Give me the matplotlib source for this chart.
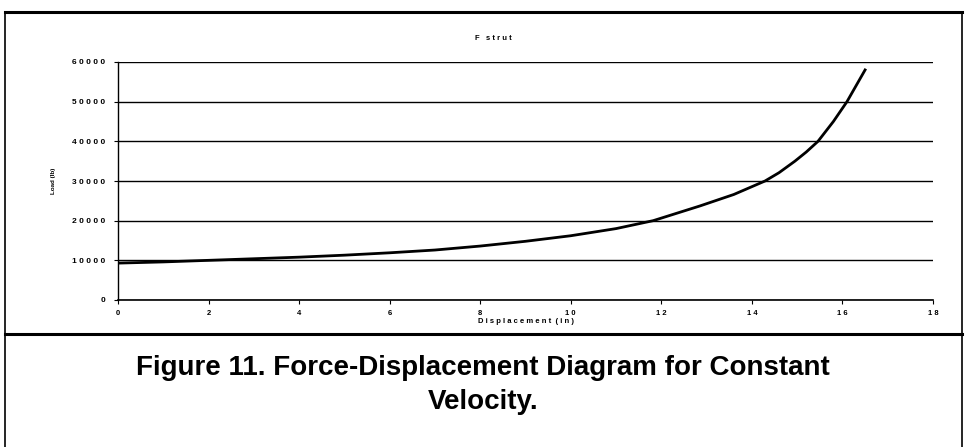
import matplotlib
matplotlib.use('Agg')
from matplotlib import pyplot as plt
from matplotlib.lines import Line2D

# data
displacement = [0, 1, 2, 3, 4, 5, 6, 7, 8, 9, 10, 11, 11.82, 12.85, 13.6,
                14.29, 14.6, 14.95, 15.2, 15.46, 15.8, 16.1, 16.3, 16.5]
load = [9300, 9600, 10000, 10400, 10800, 11300, 11900, 12600, 13600, 14800,
        16200, 18000, 20000, 23700, 26600, 30000, 32100, 35000, 37300, 40000,
        45000, 50000, 54000, 58000]

x_ticks = [0, 2, 4, 6, 8, 10, 12, 14, 16, 18]
y_ticks = [0, 10000, 20000, 30000, 40000, 50000, 60000]


def spaced(s):
    return ' '.join(s)


plt.rcParams['font.family'] = ['Liberation Sans', 'DejaVu Sans']

W, H = 965, 447
fig = plt.figure(figsize=(W / 100, H / 100), dpi=100)


def fline(x0, x1, y0, y1, lw):
    fig.add_artist(Line2D([x0 / W, x1 / W], [1 - y0 / H, 1 - y1 / H],
                          color='black', lw=lw, transform=fig.transFigure))


# outer frame + separator line
fline(5, 5, 12, 447, 1.2)
fline(962, 962, 12, 447, 1.2)
fline(5, 962, 12, 12, 2.2)
fline(5, 962, 334, 334, 2.2)

ax = fig.add_axes([118 / W, 1 - 300 / H, (933 - 118) / W, (300 - 62) / H])

ax.plot(displacement, load, color='black', lw=2)

ax.set_xlim(0, 18)
ax.set_ylim(0, 60000)
ax.set_xticks(x_ticks)
ax.set_yticks(y_ticks)
ax.set_xticklabels([spaced(str(t)) for t in x_ticks], fontsize=5.5, fontweight='bold')
ax.set_yticklabels([spaced(str(t)) for t in y_ticks], fontsize=6, fontweight='bold')
ax.tick_params(axis='both', direction='out', length=3, width=0.8, pad=4)
ax.tick_params(axis='y', pad=6)

ax.yaxis.grid(True, color='black', lw=1)
ax.set_axisbelow(True)
ax.spines['top'].set_visible(False)
ax.spines['right'].set_visible(False)
ax.spines['left'].set_linewidth(1)
ax.spines['bottom'].set_linewidth(1.2)

fig.text(493 / W, 1 - 38 / H, 'F   s t r u t', ha='center', va='center',
         fontsize=5.5, fontweight='bold')
ax.set_xlabel(spaced('Displacement') + '  ( i n )', fontsize=5.5, fontweight='bold',
              labelpad=1)
ax.set_ylabel('Load (lb)', fontsize=4.5, fontweight='bold', labelpad=12)

fig.text(483 / W, 1 - 368 / H, 'Figure 11. Force-Displacement Diagram for Constant',
         ha='center', va='center', fontsize=20, fontweight='bold')
fig.text(483 / W, 1 - 402 / H, 'Velocity.',
         ha='center', va='center', fontsize=20, fontweight='bold')

plt.savefig('out.png', dpi=100)
